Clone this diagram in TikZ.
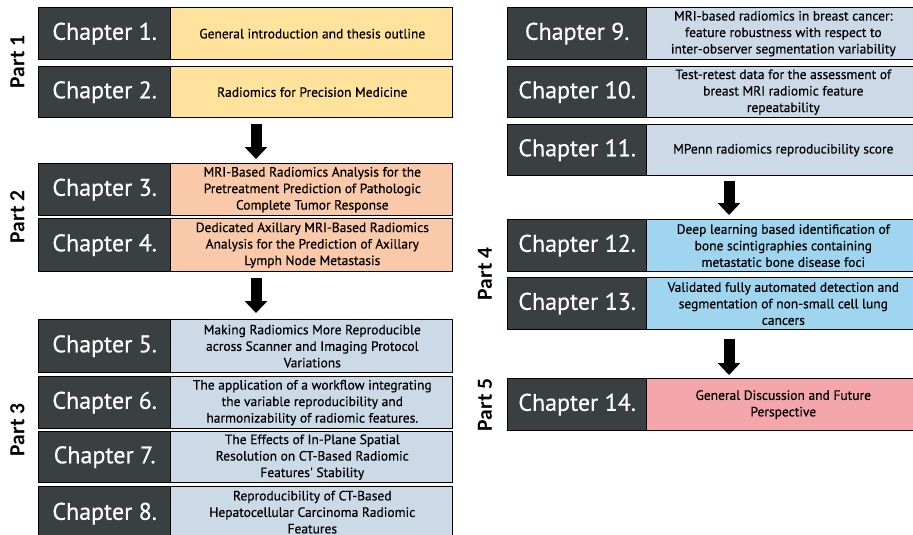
\documentclass[tikz,border=0pt]{standalone}
\usepackage{fontspec}
\setmainfont{PT Sans}
\newfontfamily\medfont[FakeBold=0.45]{PT Sans}
\newfontfamily\partfont{Carlito}
\usetikzlibrary{arrows.meta,calc}

\definecolor{chdark}{RGB}{58,63,66}
\definecolor{pone}{RGB}{255,226,156}
\definecolor{ptwo}{RGB}{250,201,170}
\definecolor{pthree}{RGB}{204,218,231}
\definecolor{pfour}{RGB}{160,213,239}
\definecolor{pfive}{RGB}{244,166,170}

\begin{document}
\begin{tikzpicture}[x=1pt,y=-1pt,
  chbox/.style={draw=black, line width=1.3pt, anchor=north west, inner sep=0pt, minimum height=52pt},
  chlab/.style={draw=black, line width=1.3pt, fill=chdark, anchor=north west, inner sep=0pt,
                minimum height=52pt, text=white, font=\medfont\fontsize{24}{28}\selectfont},
  chtxt/.style={align=center, inner sep=0pt, font=\medfont\fontsize{13.5}{16.5}\selectfont, text=black},
  partlab/.style={rotate=90, inner sep=0pt, font=\partfont\bfseries\fontsize{21.5}{24}\selectfont},
  flow/.style={line width=11pt, -{Triangle[width=22pt,length=12pt]}},
  lbox/.style={chbox, minimum width=414pt},
  llab/.style={chlab, minimum width=132pt},
  rbox/.style={chbox, minimum width=411pt},
  rlab/.style={chlab, minimum width=139pt}
]
\useasboundingbox (0,0) rectangle (913,535);
\begin{scope}
\clip (0,0) rectangle (913,535);

% ---------- left column ----------
\node[lbox, fill=pone] (ch1) at (38,7) {};
\node[llab] (ch1l) at (ch1.north west) {Chapter 1.};
\node[chtxt] (ch1t) at ($(ch1l.east)!0.5!(ch1.east)$) {General introduction and thesis outline};

\node[lbox, fill=pone, minimum height=51pt] (ch2) at (38,66) {};
\node[llab, minimum height=51pt] (ch2l) at (ch2.north west) {Chapter 2.};
\node[chtxt] (ch2t) at ($(ch2l.east)!0.5!(ch2.east)$) {Radiomics for Precision Medicine};

\node[lbox, fill=ptwo] (ch3) at (38,163) {};
\node[llab] (ch3l) at (ch3.north west) {Chapter 3.};
\node[chtxt] (ch3t) at ($(ch3l.east)!0.5!(ch3.east)$) {MRI-Based Radiomics Analysis for the\\Pretreatment Prediction of Pathologic\\Complete Tumor Response};

\node[lbox, fill=ptwo, minimum height=53pt] (ch4) at (38,218) {};
\node[llab, minimum height=53pt] (ch4l) at (ch4.north west) {Chapter 4.};
\node[chtxt] (ch4t) at ($(ch4l.east)!0.5!(ch4.east)$) {Dedicated Axillary MRI-Based Radiomics\\Analysis for the Prediction of Axillary\\Lymph Node Metastasis};

\node[lbox, fill=pthree, minimum height=53pt] (ch5) at (38,319) {};
\node[llab, minimum height=53pt] (ch5l) at (ch5.north west) {Chapter 5.};
\node[chtxt] (ch5t) at ($(ch5l.east)!0.5!(ch5.east)$) {Making Radiomics More Reproducible\\across Scanner and Imaging Protocol\\Variations};

\node[lbox, fill=pthree] (ch6) at (38,376) {};
\node[llab] (ch6l) at (ch6.north west) {Chapter 6.};
\node[chtxt] (ch6t) at ($(ch6l.east)!0.5!(ch6.east)$) {The application of a workflow integrating\\the variable reproducibility and\\harmonizability of radiomic features.};

\node[lbox, fill=pthree, minimum height=51pt] (ch7) at (38,431) {};
\node[llab, minimum height=51pt] (ch7l) at (ch7.north west) {Chapter 7.};
\node[chtxt] (ch7t) at ($(ch7l.east)!0.5!(ch7.east)$) {The Effects of In-Plane Spatial\\Resolution on CT-Based Radiomic\\Features' Stability};

\node[lbox, fill=pthree, minimum height=54pt] (ch8) at (38,486) {};
\node[llab, minimum height=54pt] (ch8l) at (ch8.north west) {Chapter 8.};
\node[chtxt] (ch8t) at ($(ch8l.east)!0.5!(ch8.east)+(0,-1.5)$) {Reproducibility of CT-Based\\Hepatocellular Carcinoma Radiomic\\Features};

% ---------- right column ----------
\node[rbox, fill=pthree] (ch9) at (507,7) {};
\node[rlab] (ch9l) at (ch9.north west) {Chapter 9.};
\node[chtxt] (ch9t) at ($(ch9l.east)!0.5!(ch9.east)$) {MRI-based radiomics in breast cancer:\\feature robustness with respect to\\inter-observer segmentation variability};

\node[rbox, fill=pthree, minimum height=51pt] (ch10) at (507,66) {};
\node[rlab, minimum height=51pt] (ch10l) at (ch10.north west) {Chapter 10.};
\node[chtxt] (ch10t) at ($(ch10l.east)!0.5!(ch10.east)$) {Test-retest data for the assessment of\\breast MRI radiomic feature\\repeatability};

\node[rbox, fill=pthree, minimum height=51pt] (ch11) at (507,124) {};
\node[rlab, minimum height=51pt] (ch11l) at (ch11.north west) {Chapter 11.};
\node[chtxt] (ch11t) at ($(ch11l.east)!0.5!(ch11.east)$) {MPenn radiomics reproducibility score};

\node[rbox, fill=pfour] (ch12) at (507,219) {};
\node[rlab] (ch12l) at (ch12.north west) {Chapter 12.};
\node[chtxt] (ch12t) at ($(ch12l.east)!0.5!(ch12.east)$) {Deep learning based identification of\\bone scintigraphies containing\\metastatic bone disease foci};

\node[rbox, fill=pfour] (ch13) at (507,277) {};
\node[rlab] (ch13l) at (ch13.north west) {Chapter 13.};
\node[chtxt] (ch13t) at ($(ch13l.east)!0.5!(ch13.east)$) {Validated fully automated detection and\\segmentation of non-small cell lung\\cancers};

\node[rbox, fill=pfive] (ch14) at (507,378) {};
\node[rlab] (ch14l) at (ch14.north west) {Chapter 14.};
\node[chtxt] (ch14t) at ($(ch14l.east)!0.5!(ch14.east)$) {General Discussion and Future\\Perspective};

% ---------- flow arrows between parts ----------
\draw[flow] ($(ch2.south west)+(218,6)$) -- ($(ch3.north west)+(218,-4)$);
\draw[flow] ($(ch4.south west)+(218,6)$) -- ($(ch5.north west)+(218,-6)$);
\draw[flow] ($(ch11.south west)+(222,5)$) -- ($(ch12.north west)+(222,-4)$);
\draw[flow] ($(ch13.south west)+(222,9)$) -- ($(ch14.north west)+(222,-3)$);
\end{scope}

% ---------- part labels ----------
\node[partlab] (p1) at (17.5,62) {Part 1};
\node[partlab] (p2) at (17.5,217) {Part 2};
\node[partlab] (p3) at (17.5,430) {Part 3};
\node[partlab] (p4) at (485,274) {Part 4};
\node[partlab] (p5) at (485,405) {Part 5};
\end{tikzpicture}
\end{document}
